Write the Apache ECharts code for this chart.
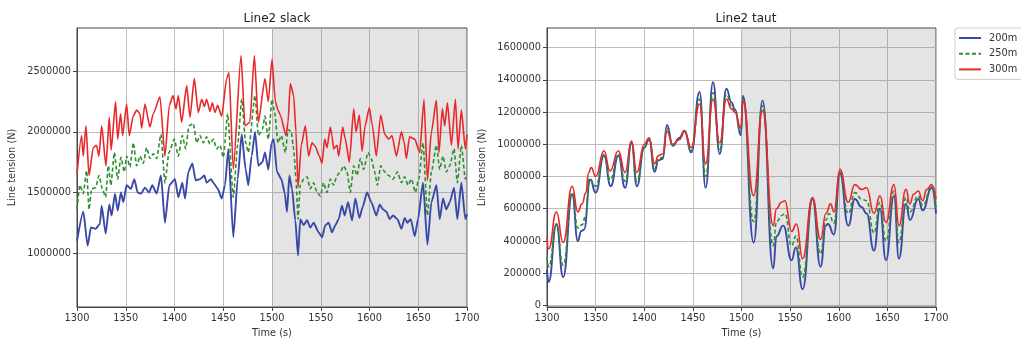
<!DOCTYPE html>
<html>
<head>
<meta charset="utf-8">
<script src="https://cdn.jsdelivr.net/npm/echarts@6/dist/echarts.min.js"></script>
<style>
  html, body { margin: 0; padding: 0; background: #fff; }
  #chart { width: 1021px; height: 345px; }
</style>
</head>
<body>
<div id="chart"></div>
<script>
// ---- Line2 slack: line tension (N) over time (s) ----
const slackT200 = [1300,1306.5,1310.9,1314.3,1319.1,1323.5,1325.3,1329.4,1333.1,1335.5,1339,1341.7,1345.1,1347.5,1350.9,1355.3,1358.8,1362.2,1365.6,1369.7,1373.8,1377.2,1381.7,1386.1,1390.2,1394.7,1400.5,1403.9,1408,1410.8,1414.2,1418.3,1421.7,1426.1,1430.6,1433,1437.4,1440.8,1444.3,1448.4,1451.8,1455.2,1460.3,1464.8,1468.9,1473,1475.7,1479.1,1482.6,1486,1490.1,1492.8,1496.2,1499.6,1501.7,1505.1,1509.6,1513,1515.4,1517.8,1520.5,1523.9,1526.7,1529,1532.5,1535.9,1539.3,1542.7,1547.9,1551.3,1554.7,1558.1,1561.5,1565,1568.4,1571.8,1574.5,1578,1582.1,1585.5,1589.6,1593,1597.4,1601.9,1607,1610.5,1613.9,1617.3,1620.7,1624.1,1628.6,1632.7,1636.1,1638.8,1642.3,1646.4,1649.8,1654.9,1659.4,1663.5,1668.6,1672,1675.4,1678.8,1682.3,1686.7,1690.1,1694.2,1698.3,1700];
const slackV200 = [1100000,1340000,1060000,1210000,1200000,1240000,1390000,1160000,1400000,1310000,1490000,1350000,1500000,1420000,1560000,1530000,1610000,1500000,1490000,1540000,1500000,1560000,1490000,1640000,1250000,1560000,1610000,1460000,1580000,1450000,1670000,1740000,1600000,1610000,1640000,1580000,1610000,1570000,1530000,1450000,1560000,1860000,1130000,1610000,1980000,1690000,1560000,1800000,2000000,1720000,1750000,1830000,1690000,1910000,1940000,1670000,1610000,1500000,1340000,1640000,1530000,1270000,980000,1280000,1230000,1270000,1210000,1250000,1170000,1130000,1230000,1250000,1170000,1230000,1280000,1390000,1310000,1420000,1270000,1450000,1290000,1380000,1500000,1420000,1310000,1400000,1360000,1340000,1280000,1310000,1280000,1200000,1290000,1250000,1280000,1140000,1280000,1580000,1070000,1420000,1560000,1280000,1450000,1360000,1420000,1540000,1280000,1580000,1280000,1320000];

const slackT250 = [1300,1303,1306.4,1309.9,1312.3,1315,1319.1,1322.5,1326,1329.4,1332.1,1334.8,1338.3,1341.7,1345.1,1348.5,1350.9,1354.3,1357.7,1361.2,1364.6,1368,1371.4,1374.8,1378.2,1381.7,1386.1,1390.2,1394.3,1399.8,1403.9,1408,1411.4,1414.9,1419.3,1422.7,1426.1,1429.6,1433,1436.4,1439.8,1443.2,1446.7,1450.1,1454.5,1460.3,1464.8,1468.9,1473,1475.7,1482.6,1486,1490.1,1492.8,1496.2,1500,1502.7,1506.2,1509.6,1513.7,1516.4,1519.8,1522.2,1524.6,1526.7,1529,1532.5,1535.9,1539.3,1542.7,1546.2,1549.6,1553,1556.4,1559.8,1563.2,1566.7,1570.1,1573.5,1576.9,1580.3,1583.8,1587.2,1590.6,1594,1598.5,1601.9,1605.3,1608.1,1611.5,1615.6,1619.7,1624.1,1628.6,1632.7,1636.1,1639.5,1643,1647.1,1650.5,1654.9,1659.4,1663.5,1668.6,1672,1675.4,1678.8,1682.3,1686.7,1690.1,1694.2,1698.3,1700];
const slackV250 = [1360000,1560000,1490000,1680000,1360000,1530000,1540000,1640000,1530000,1460000,1720000,1560000,1830000,1610000,1790000,1670000,1800000,1710000,1910000,1720000,1800000,1740000,1870000,1780000,1820000,1780000,1980000,1580000,1830000,1940000,1800000,1970000,1860000,2050000,2070000,1910000,1970000,1910000,1960000,1900000,1940000,1860000,1890000,1790000,2150000,1460000,1890000,2270000,1910000,1830000,2300000,1970000,2020000,2130000,1940000,2270000,2160000,1910000,1970000,1830000,2020000,2000000,1860000,1610000,1280000,1560000,1610000,1630000,1530000,1580000,1500000,1470000,1580000,1500000,1610000,1560000,1640000,1670000,1720000,1670000,1500000,1720000,1640000,1780000,1690000,1830000,1780000,1670000,1560000,1720000,1670000,1640000,1610000,1670000,1580000,1630000,1560000,1610000,1500000,1610000,1910000,1310000,1670000,1890000,1690000,1800000,1670000,1720000,1860000,1580000,1890000,1610000,1650000];

const slackT300 = [1300,1304.7,1306.4,1309.2,1312.3,1316.7,1320,1322.5,1325.3,1329.7,1333.1,1335,1339.6,1341.7,1344.7,1346.8,1350.9,1353.6,1357.7,1361.2,1364.6,1366.3,1369.7,1374.8,1378.2,1385.1,1390.2,1394.7,1398.5,1401.5,1404,1407.3,1412.5,1415.9,1420.3,1424.4,1427.9,1430.6,1433,1436.4,1438.8,1441.5,1444.3,1448.4,1453.5,1455.9,1460.3,1468.2,1472.3,1477.3,1481.9,1486,1492.8,1496.2,1500,1503.4,1506.2,1508.5,1514.4,1516.4,1518.8,1522.2,1524.6,1526.7,1530,1534.2,1537.6,1541,1544.4,1548.5,1551.3,1554,1556.4,1559.8,1561.5,1563.2,1566.7,1568.4,1572.5,1575.2,1579.3,1583.8,1586.2,1589.6,1592.3,1595.5,1599.8,1603,1607,1611.5,1615.6,1619.7,1623.1,1627.6,1632.7,1635.4,1637.8,1641.1,1646.4,1651.5,1655.9,1659.4,1663.5,1668.6,1671.3,1674.7,1677.1,1679.9,1684,1688.1,1690.8,1694.2,1698.3,1700];
const slackV300 = [1650000,1970000,1800000,2050000,1640000,1870000,1890000,1800000,2050000,1720000,2120000,1850000,2250000,1940000,2150000,1970000,2230000,1970000,2130000,2180000,2150000,2030000,2230000,2040000,2150000,2290000,1800000,2220000,2300000,2190000,2300000,2080000,2380000,2120000,2440000,2160000,2270000,2210000,2270000,2170000,2240000,2160000,2220000,2130000,2440000,2490000,1690000,2630000,2050000,2080000,2630000,2080000,2440000,2250000,2600000,2250000,2180000,2140000,1970000,2080000,2400000,2300000,2000000,1540000,1890000,2050000,1800000,1910000,1880000,1800000,1740000,1940000,1870000,2040000,1970000,1860000,1890000,1800000,2040000,1940000,1750000,2190000,2000000,2140000,1840000,2050000,2200000,2050000,1800000,2140000,1980000,1940000,1970000,1800000,2000000,1920000,1780000,1960000,1940000,1830000,2270000,1600000,2000000,2260000,1830000,2190000,2050000,2240000,1890000,2270000,1860000,2180000,1860000,1980000];

// ---- Line2 taut ----
const tautT200 = [1300,1301.7,1309.7,1316.6,1325.9,1331.7,1335.2,1338,1344.5,1350,1358.6,1365.5,1373.4,1380.3,1386.9,1392.4,1400,1405,1410.7,1414.5,1419,1423.4,1429.3,1436,1441.4,1448.3,1456.9,1463.1,1470.7,1477.6,1484.5,1489.7,1493.1,1499.3,1501.5,1512.5,1521.6,1532.6,1536,1542.9,1551.5,1555.9,1562.8,1573,1581.3,1586.8,1589,1595,1601.2,1609.8,1616.6,1623.5,1628.6,1636.2,1642.4,1648.5,1656.8,1661.9,1669.1,1673.2,1681.7,1686.3,1695.5,1700];
const tautV200 = [220000,145000,505000,175000,690000,400000,460000,470000,780000,700000,930000,740000,930000,730000,1010000,740000,980000,1030000,830000,900000,910000,1120000,990000,1040000,1085000,950000,1325000,730000,1385000,940000,1345000,1260000,1220000,1055000,1300000,390000,1270000,230000,430000,495000,280000,360000,100000,660000,240000,495000,505000,440000,820000,495000,660000,610000,570000,340000,600000,280000,680000,290000,630000,530000,660000,590000,730000,570000];

const tautT250 = [1300,1301.7,1309.7,1316.6,1325.9,1331.7,1336,1340,1343.5,1350,1358.6,1365,1373.4,1380.3,1386.9,1392.4,1400,1405,1410.7,1414.5,1419,1423.4,1429.3,1436,1441.4,1448.3,1456.9,1463.1,1470.7,1477.6,1484.5,1489.7,1493.1,1499.3,1501.5,1512.5,1521.6,1532.6,1536,1542,1544.6,1551.5,1556,1562.8,1573,1581.3,1586.8,1590,1595,1601.2,1609.8,1616.6,1623.5,1628.6,1636.2,1642.4,1648.5,1656.8,1661.9,1669.1,1673.2,1681.7,1686.3,1695.5,1700];
const tautV250 = [300000,240000,500000,250000,700000,480000,500000,560000,790000,740000,940000,780000,940000,770000,1010000,770000,980000,1030000,850000,910000,920000,1100000,990000,1030000,1080000,960000,1280000,800000,1320000,970000,1310000,1240000,1210000,1070000,1280000,520000,1240000,370000,520000,560000,570000,370000,430000,175000,660000,320000,530000,570000,510000,830000,570000,700000,660000,650000,450000,640000,400000,710000,390000,670000,580000,680000,620000,740000,610000];

const tautT300 = [1300,1301.7,1309.7,1316.6,1325.9,1331.7,1336,1340,1342.5,1345.5,1350,1358.6,1364.8,1373.4,1380.3,1386.9,1392.4,1400,1405,1410.7,1414.5,1419,1423.4,1429.3,1436,1441.4,1448.3,1456.9,1463.1,1470.7,1477.6,1484.5,1489.7,1493.1,1499.3,1501.5,1512.5,1521.6,1532.6,1536,1541,1544.6,1551.5,1556.6,1562.8,1573,1581.3,1586.8,1591.6,1595,1601.2,1609.8,1616.6,1623.5,1628.6,1636.2,1642.4,1648.5,1656.8,1661.9,1669.1,1673.2,1677,1681.7,1686.3,1690.4,1695.5,1700];
const tautV300 = [420000,350000,580000,390000,740000,580000,630000,700000,820000,855000,800000,960000,835000,960000,825000,1020000,825000,1000000,1040000,880000,930000,940000,1080000,1000000,1030000,1080000,980000,1250000,880000,1280000,1010000,1280000,1220000,1200000,1100000,1270000,680000,1210000,495000,600000,640000,650000,460000,505000,290000,670000,410000,570000,630000,580000,845000,640000,750000,720000,730000,570000,680000,515000,750000,495000,720000,630000,690000,710000,650000,720000,750000,660000];

// Axis ranges, ticks and the shaded interval
const timeMin = 1300, timeMax = 1700, timeStep = 50;
const slackMin = 554000, slackMax = 2858000;
const slackTicks = [1000000, 1500000, 2000000, 2500000];
const tautMin = -10000, tautMax = 1722000;
const tautTicks = [0, 200000, 400000, 600000, 800000, 1000000, 1200000, 1400000, 1600000];
const shadeFrom = 1500, shadeTo = 1700;
const seriesNames = ['200m', '250m', '300m'];
const titles = ['Line2 slack', 'Line2 taut'];

const FONT = 'DejaVu Sans';
const TXT = '#333';
const colors = ['#3a48a8', '#2f8f2f', '#e8282b'];
const plain = v => String(v);

function zip(t, v) { return t.map((x, i) => [x, v[i]]); }

function xAxisFor(idx) {
  return {
    type: 'value', gridIndex: idx, min: timeMin, max: timeMax, interval: timeStep,
    name: 'Time (s)', nameLocation: 'middle', nameGap: 21,
    nameTextStyle: { fontFamily: FONT, fontSize: 9.8, color: TXT },
    axisLine: { show: true, onZero: false, lineStyle: { color: '#444', width: 1 } },
    axisTick: { show: true, inside: false, length: 4, lineStyle: { color: '#444' } },
    axisLabel: { fontFamily: FONT, fontSize: 9.8, color: TXT, margin: 6, formatter: plain },
    splitLine: { show: true, lineStyle: { color: '#bdbdbd', width: 1 } }
  };
}
function yAxisFor(idx, mn, mx, ticks) {
  return {
    type: 'value', gridIndex: idx, min: mn, max: mx,
    name: 'Line tension (N)', nameLocation: 'middle', nameGap: 60,
    nameTextStyle: { fontFamily: FONT, fontSize: 9.8, color: TXT },
    axisLine: { show: true, onZero: false, lineStyle: { color: '#444', width: 1 } },
    axisTick: { show: true, inside: false, length: 4, lineStyle: { color: '#444' }, customValues: ticks },
    axisLabel: { fontFamily: FONT, fontSize: 9.8, color: TXT, margin: 6, customValues: ticks, formatter: plain },
    splitLine: { show: true, lineStyle: { color: '#bdbdbd', width: 1 } }
  };
}
function lineSeries(name, idx, data, k, smooth, withShade) {
  const s = {
    name: name, type: 'line', xAxisIndex: idx, yAxisIndex: idx,
    data: data, symbol: 'none', showSymbol: false, smooth: smooth, smoothMonotone: 'x',
    color: colors[k],
    lineStyle: { color: colors[k], width: k === 0 ? 1.9 : 1.6, type: k === 1 ? [4, 2.5] : 'solid' },
    z: 3 + k
  };
  if (withShade) {
    s.markArea = {
      silent: true,
      itemStyle: { color: 'rgba(120,120,120,0.2)' },
      data: [[{ xAxis: shadeFrom }, { xAxis: shadeTo }]]
    };
  }
  return s;
}

const chart = echarts.init(document.getElementById('chart'), null, { renderer: 'canvas' });
chart.setOption({
  animation: false,
  backgroundColor: '#fff',
  textStyle: { fontFamily: FONT },
  title: [
    { text: titles[0], left: 272, top: 8, textAlign: 'center',
      textStyle: { fontFamily: FONT, fontSize: 12, fontWeight: 'normal', color: '#222' } },
    { text: titles[1], left: 741, top: 8, textAlign: 'center',
      textStyle: { fontFamily: FONT, fontSize: 12, fontWeight: 'normal', color: '#222' } }
  ],
  legend: {
    data: seriesNames, orient: 'vertical', left: 955, top: 28,
    padding: [5, 6, 5, 3], itemGap: 5.7, itemWidth: 22, itemHeight: 10,
    itemStyle: { opacity: 0 },
    borderColor: '#d0d0d0', borderWidth: 1, borderRadius: 3,
    textStyle: { fontFamily: FONT, fontSize: 9.8, color: TXT, padding: [0, 0, 0, 3] }
  },
  grid: [
    { left: 77, right: 554, top: 28, bottom: 38, show: true, borderColor: '#444', borderWidth: 1,
      backgroundColor: 'transparent', containLabel: false, outerBoundsMode: 'none' },
    { left: 547, right: 85, top: 28, bottom: 38, show: true, borderColor: '#444', borderWidth: 1,
      backgroundColor: 'transparent', containLabel: false, outerBoundsMode: 'none' }
  ],
  xAxis: [xAxisFor(0), xAxisFor(1)],
  yAxis: [yAxisFor(0, slackMin, slackMax, slackTicks), yAxisFor(1, tautMin, tautMax, tautTicks)],
  series: [
    lineSeries(seriesNames[0], 0, zip(slackT200, slackV200), 0, 0.2, true),
    lineSeries(seriesNames[1], 0, zip(slackT250, slackV250), 1, 0.2, false),
    lineSeries(seriesNames[2], 0, zip(slackT300, slackV300), 2, 0.2, false),
    lineSeries(seriesNames[0], 1, zip(tautT200, tautV200), 0, 0.5, true),
    lineSeries(seriesNames[1], 1, zip(tautT250, tautV250), 1, 0.5, false),
    lineSeries(seriesNames[2], 1, zip(tautT300, tautV300), 2, 0.5, false)
  ]
});
</script>
</body>
</html>
